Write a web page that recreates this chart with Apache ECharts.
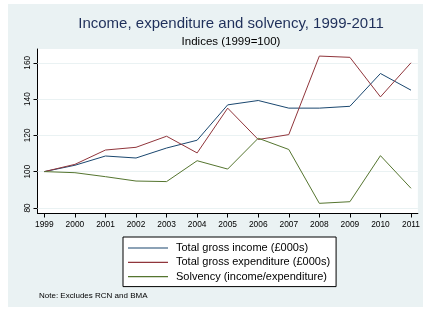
<!DOCTYPE html>
<html>
<head>
<meta charset="utf-8">
<script src="https://cdn.jsdelivr.net/npm/echarts@6/dist/echarts.min.js"></script>
<style>
html,body{margin:0;padding:0;background:#fff;}
#c{width:423px;height:309px;}
</style>
</head>
<body>
<div id="c"></div>
<script>
var years = [1999,2000,2001,2002,2003,2004,2005,2006,2007,2008,2009,2010,2011];
var income = [100,103.5,108.6,107.5,113,117.3,136.8,139.2,135,135,136,154.1,144.9];
var expenditure = [100,104,111.9,113.4,119.5,110.3,135,117.7,120.4,163.7,163,141.2,160];
var solvency = [100,99.4,97.2,94.8,94.5,106,101.4,118.4,112.2,82.5,83.4,108.8,90.8];
var yTicks = [80,100,120,140,160];
var seriesNames = ['Total gross income (£000s)','Total gross expenditure (£000s)','Solvency (income/expenditure)'];
var titleText = 'Income, expenditure and solvency, 1999-2011';
var subtitleText = 'Indices (1999=100)';
var noteText = 'Note: Excludes RCN and BMA';

function pairs(vals){ return years.map(function(y,i){ return [y, vals[i]]; }); }

var font = '"Liberation Sans", Arial, Helvetica, sans-serif';
var chart = echarts.init(document.getElementById('c'), null, {renderer:'canvas'});
var colors = ['#1a476f','#90353b','#55752f'];
var lineSeries = [income, expenditure, solvency].map(function(v,i){
  return {
    name: seriesNames[i], type:'line', data: pairs(v), symbol:'none',
    lineStyle:{color:colors[i], width:1}, itemStyle:{color:colors[i]},
    animation:false, z: 3
  };
});
lineSeries[0].markLine = {
  silent:true, symbol:'none', animation:false, label:{show:false},
  lineStyle:{color:'#eaf2f3', width:1, type:'solid'},
  data: yTicks.map(function(t){ return {yAxis:t}; }),
  z: 1
};

chart.setOption({
  animation:false,
  backgroundColor:'#ffffff',
  graphic:[
    {type:'rect', shape:{x:8,y:4,width:415,height:303}, style:{fill:'#eaf2f3'}, z:-10, silent:true},
    {type:'text', x:231, y:24, style:{text:titleText, font:'15px '+font, fill:'#1e2f5a', textAlign:'center', textVerticalAlign:'middle'}},
    {type:'text', x:231, y:41.5, style:{text:subtitleText, font:'11.5px '+font, fill:'#000', textAlign:'center', textVerticalAlign:'middle'}},
    {type:'text', x:39, y:296, style:{text:noteText, font:'8px '+font, fill:'#000', textAlign:'left', textVerticalAlign:'middle'}}
  ],
  grid:{left:37.5, top:49, right:0, height:164.5, show:true, backgroundColor:'#ffffff', borderWidth:0, containLabel:false},
  xAxis:{
    type:'value', min:1998.775, max:2011.225,
    axisLine:{show:true, onZero:false, lineStyle:{color:'#000', width:1}},
    axisTick:{show:true, length:4, lineStyle:{color:'#000'}, customValues: years},
    axisLabel:{show:true, customValues: years, fontSize:8.4, fontFamily:font, color:'#000', margin:7, formatter:function(v){return String(Math.round(v));}},
    splitLine:{show:false}
  },
  yAxis:{
    type:'value', min:76.9, max:167.6,
    axisLine:{show:true, onZero:false, lineStyle:{color:'#000', width:1}},
    axisTick:{show:true, length:4, lineStyle:{color:'#000'}, customValues: yTicks},
    axisLabel:{show:true, customValues: yTicks, rotate:90, fontSize:8.4, fontFamily:font, color:'#000', margin:6, formatter:function(v){return String(Math.round(v));}},
    splitLine:{show:false}
  },
  legend:{
    left:123, top:237, orient:'vertical', data: seriesNames,
    backgroundColor:'#fff', borderColor:'#000', borderWidth:1, borderRadius:0,
    padding:[4,6,3,5], itemGap:0.3, itemWidth:40, itemHeight:1.2, icon:'rect',
    textStyle:{fontSize:11, fontFamily:font, color:'#000', lineHeight:14, padding:[0,0,0,3]}
  },
  series: lineSeries
});
</script>
</body>
</html>
